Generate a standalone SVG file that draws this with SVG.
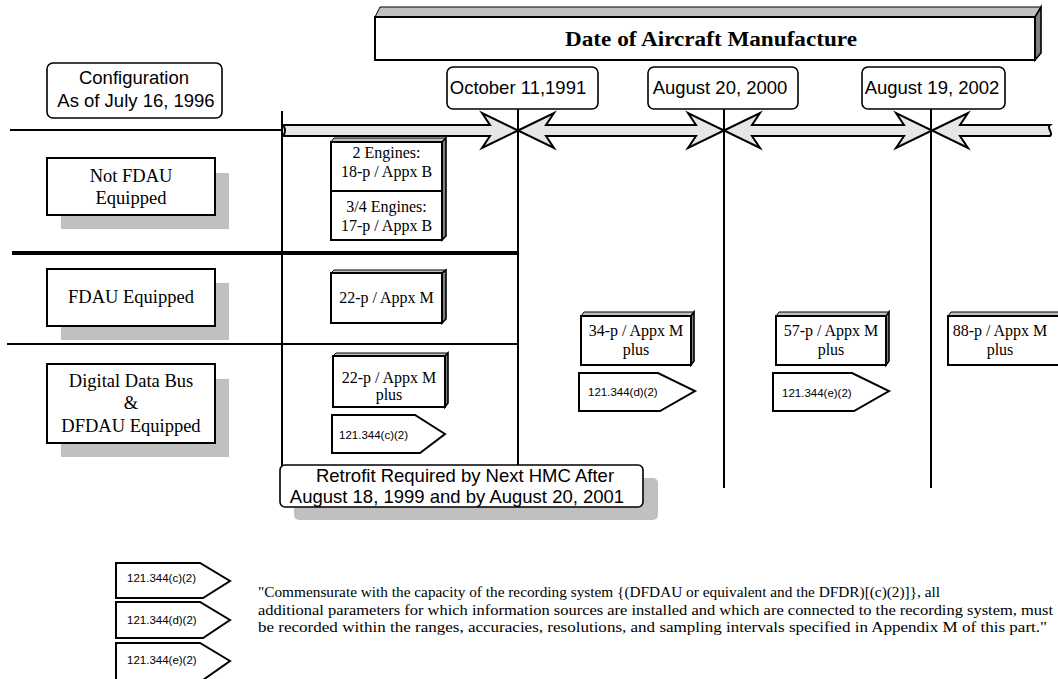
<svg xmlns="http://www.w3.org/2000/svg" width="1058" height="679" viewBox="0 0 1058 679">
<style>
.sans{font-family:"Liberation Sans",Arial,sans-serif;fill:#000}
.serif{font-family:"Liberation Serif","Times New Roman",serif;fill:#000}
.box{fill:#fff;stroke:#000;stroke-width:2}
.rbox{fill:#fff;stroke:#000;stroke-width:1.6}
.shadow{fill:#c0c0c0}
.top{fill:#c0c0c0;stroke:#000;stroke-width:1}
.side{fill:#808080;stroke:#000;stroke-width:1.6}
.ln{stroke:#000;stroke-width:2;fill:none}
.thick{stroke:#000;stroke-width:4;fill:none}
.arrow{fill:#e6e6e6;stroke:#000;stroke-width:2;stroke-linejoin:miter}
.tag{fill:#fff;stroke:#000;stroke-width:2;stroke-linejoin:miter}
.lbl{font-size:18.5px}
.cell{font-size:16px}
.tagt{font-size:11.5px}
</style>
<rect x="0" y="0" width="1058" height="679" fill="#fff"/>

<g id="connectors">
  <line class="ln" x1="10" y1="130" x2="283" y2="130"/>
  <line class="thick" x1="12" y1="253" x2="518" y2="253"/>
  <line class="ln" x1="7" y1="344" x2="518" y2="344"/>
  <path class="arrow" d="M283,125 L490,125 L482,113 L518,130.5 L482,148 L490,136 L283,136 Q287,130.5 283,125 Z"/>
  <polygon class="arrow" points="518,130.5 554,113 546,125 696,125 688,113 724,130.5 688,148 696,136 546,136 554,148"/>
  <polygon class="arrow" points="724,130.5 760,113 752,125 904,125 896,113 932,130.5 896,148 904,136 752,136 760,148"/>
  <path class="arrow" d="M932,130.5 L968,113 L960,125 L1050,125 C1046,128 1054,133 1050,136 L960,136 L968,148 Z"/>
  <line class="ln" x1="282" y1="111" x2="282" y2="466"/>
  <line class="ln" x1="518" y1="108" x2="518" y2="465"/>
  <line class="ln" x1="724" y1="109" x2="724" y2="488"/>
  <line class="ln" x1="931" y1="109" x2="931" y2="488"/>
</g>

<g id="header">
  <polygon class="top" points="375,17 380,7 1041,7 1035,17"/>
  <polygon class="side" points="1035,17 1041,7 1041,53 1035,60"/>
  <rect class="box" x="375" y="17" width="660" height="43"/>
  <text class="serif" x="711" y="46" font-size="20" font-weight="bold" text-anchor="middle" textLength="292" lengthAdjust="spacingAndGlyphs">Date of Aircraft Manufacture</text>
</g>

<g id="config">
  <rect class="rbox" x="47" y="63" width="175" height="55" rx="6"/>
  <text class="sans lbl" x="134" y="84" text-anchor="middle">Configuration</text>
  <text class="sans lbl" x="136" y="107" text-anchor="middle">As of July 16, 1996</text>
</g>

<g id="date-1991">
  <rect class="rbox" x="447" y="67" width="151" height="42" rx="6"/>
  <text class="sans lbl" x="518" y="94" text-anchor="middle">October 11,1991</text>
</g>
<g id="date-2000">
  <rect class="rbox" x="648" y="67" width="150" height="42" rx="6"/>
  <text class="sans lbl" x="720" y="94" text-anchor="middle">August 20, 2000</text>
</g>
<g id="date-2002">
  <rect class="rbox" x="862" y="67" width="143" height="42" rx="6"/>
  <text class="sans lbl" x="932" y="94" text-anchor="middle">August 19, 2002</text>
</g>

<g id="row-not-fdau">
  <rect class="shadow" x="61" y="173" width="168" height="56"/>
  <rect class="box" x="47" y="158" width="168" height="57"/>
  <text class="serif lbl" x="131" y="182" text-anchor="middle">Not FDAU</text>
  <text class="serif lbl" x="131" y="204" text-anchor="middle">Equipped</text>
</g>
<g id="row-fdau">
  <rect class="shadow" x="61" y="283" width="168" height="57"/>
  <rect class="box" x="47" y="269" width="168" height="57"/>
  <text class="serif lbl" x="131" y="303" text-anchor="middle">FDAU Equipped</text>
</g>
<g id="row-ddb">
  <rect class="shadow" x="61" y="379" width="168" height="78"/>
  <rect class="box" x="47" y="364" width="168" height="79"/>
  <text class="serif lbl" x="131" y="387" text-anchor="middle">Digital Data Bus</text>
  <text class="serif lbl" x="131" y="409" text-anchor="middle">&amp;</text>
  <text class="serif lbl" x="131" y="432" text-anchor="middle">DFDAU Equipped</text>
</g>

<g id="engines">
  <polygon class="top" points="331,142 334,138 446,138 442,142"/>
  <polygon class="side" points="442,142 446,138 446,236 442,240"/>
  <rect class="box" x="331" y="142" width="111" height="49"/>
  <rect class="box" x="331" y="191" width="111" height="49"/>
  <text class="serif cell" x="386.5" y="158" text-anchor="middle">2 Engines:</text>
  <text class="serif cell" x="386.5" y="177" text-anchor="middle">18-p / Appx B</text>
  <text class="serif cell" x="386.5" y="212" text-anchor="middle">3/4 Engines:</text>
  <text class="serif cell" x="386.5" y="231" text-anchor="middle">17-p / Appx B</text>
</g>

<g id="fdau-22p">
  <polygon class="top" points="331,273 334,270 446,270 442,273"/>
  <polygon class="side" points="442,273 446,270 446,319 442,323"/>
  <rect class="box" x="331" y="273" width="111" height="50"/>
  <text class="serif cell" x="386.5" y="303" text-anchor="middle">22-p / Appx M</text>
</g>

<g id="ddb-22p">
  <polygon class="top" points="333,356 336,353 448,353 445,356"/>
  <polygon class="side" points="445,356 448,353 448,403 445,407"/>
  <rect class="box" x="333" y="356" width="112" height="51"/>
  <text class="serif cell" x="389" y="383" text-anchor="middle">22-p / Appx M</text>
  <text class="serif cell" x="389" y="400" text-anchor="middle">plus</text>
</g>
<g id="tag-c">
  <polygon class="tag" points="332,415 415,415 445,434 420,453 332,453"/>
  <text class="sans tagt" x="339" y="439">121.344(c)(2)</text>
</g>

<g id="box-34p">
  <polygon class="top" points="581,316 584,312 694,312 691,316"/>
  <polygon class="side" points="691,316 694,312 694,361 691,365"/>
  <rect class="box" x="581" y="316" width="110" height="49"/>
  <text class="serif cell" x="636" y="336" text-anchor="middle">34-p / Appx M</text>
  <text class="serif cell" x="636" y="355" text-anchor="middle">plus</text>
</g>
<g id="tag-d">
  <polygon class="tag" points="579,373 658,373 695,391 660,411 579,411"/>
  <text class="sans tagt" x="588" y="396">121.344(d)(2)</text>
</g>

<g id="box-57p">
  <polygon class="top" points="776,316 779,312 889,312 886,316"/>
  <polygon class="side" points="886,316 889,312 889,361 886,365"/>
  <rect class="box" x="776" y="316" width="110" height="49"/>
  <text class="serif cell" x="831" y="336" text-anchor="middle">57-p / Appx M</text>
  <text class="serif cell" x="831" y="355" text-anchor="middle">plus</text>
</g>
<g id="tag-e">
  <polygon class="tag" points="773,373 852,373 889,391 854,411 773,411"/>
  <text class="sans tagt" x="782" y="397">121.344(e)(2)</text>
</g>

<g id="box-88p">
  <polygon class="top" points="948,316 951,312 1070,312 1067,316"/>
  <rect class="box" x="948" y="316" width="120" height="49"/>
  <text class="serif cell" x="1000" y="336" text-anchor="middle">88-p / Appx M</text>
  <text class="serif cell" x="1000" y="355" text-anchor="middle">plus</text>
</g>

<g id="retrofit">
  <rect class="shadow" x="294" y="478" width="364" height="42" rx="5"/>
  <rect class="rbox" x="280" y="465" width="363" height="42" rx="5"/>
  <text class="sans lbl" x="465" y="482" text-anchor="middle">Retrofit Required by Next HMC After</text>
  <text class="sans lbl" x="457" y="503" text-anchor="middle">August 18, 1999 and by August 20, 2001</text>
</g>

<g id="legend">
  <polygon class="tag" points="116,563 200,563 230,581 203,598 116,598"/>
  <text class="sans tagt" x="127" y="582">121.344(c)(2)</text>
  <polygon class="tag" points="116,602 200,602 230,620 203,638 116,638"/>
  <text class="sans tagt" x="127" y="624">121.344(d)(2)</text>
  <polygon class="tag" points="116,643 200,643 230,661 203,680 116,680"/>
  <text class="sans tagt" x="127" y="664">121.344(e)(2)</text>
  <text class="serif" font-size="14.5" x="258" y="597" textLength="682" lengthAdjust="spacingAndGlyphs">"Commensurate with the capacity of the recording system {(DFDAU or equivalent and the DFDR)[(c)(2)]}, all</text>
  <text class="serif" font-size="14.5" x="258" y="615" textLength="795" lengthAdjust="spacingAndGlyphs">additional parameters for which information sources are installed and which are connected to the recording system, must</text>
  <text class="serif" font-size="14.5" x="258" y="632" textLength="789" lengthAdjust="spacingAndGlyphs">be recorded within the ranges, accuracies, resolutions, and sampling intervals specified in Appendix M of this part."</text>
</g>
</svg>
